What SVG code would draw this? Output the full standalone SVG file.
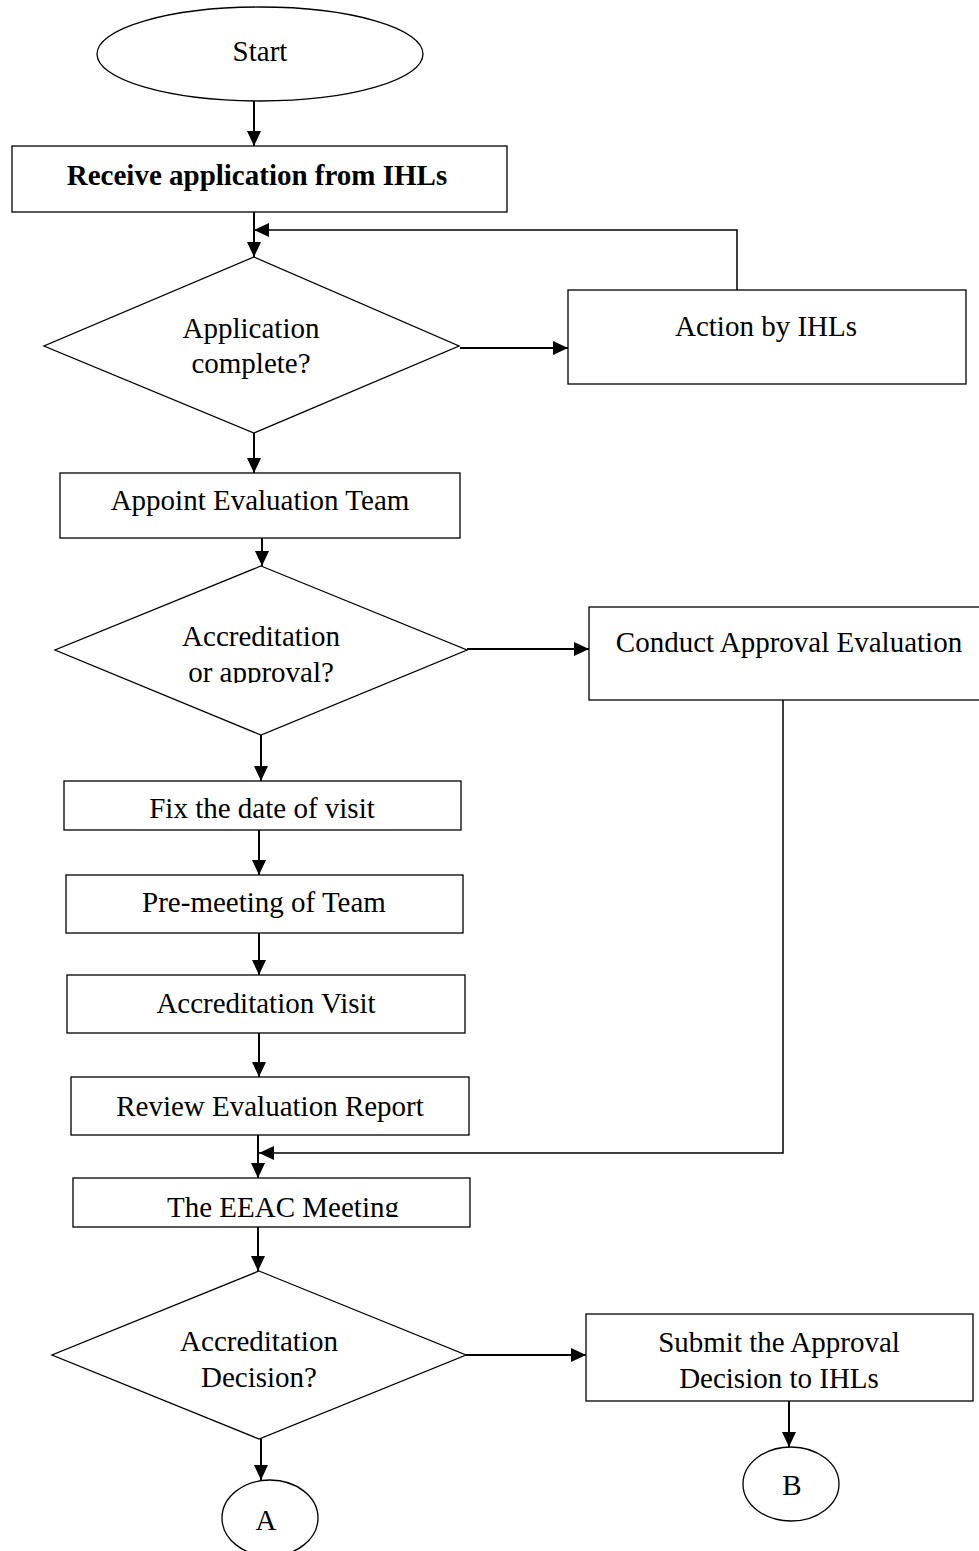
<svg xmlns="http://www.w3.org/2000/svg" width="979" height="1551" viewBox="0 0 979 1551">
<style>
.s{fill:#fff;stroke:#000;stroke-width:1.3}
.t{font-family:"Liberation Serif","Times New Roman",serif;font-size:29px;fill:#000;text-anchor:middle}
.b{font-weight:bold}
.c{fill:none;stroke:#000;stroke-width:2}
</style>
<defs>
<marker id="ah" markerUnits="userSpaceOnUse" markerWidth="16" markerHeight="14" refX="15" refY="7" orient="auto">
<path d="M0,0 L15,7 L0,14 z" fill="#000"/>
</marker>
<clipPath id="clipOr"><rect x="0" y="600" width="979" height="83"/></clipPath>
<clipPath id="clipEeac"><rect x="0" y="1180" width="979" height="37"/></clipPath>
</defs>
<rect width="979" height="1551" fill="#fff"/>
<g id="connectors">
<path class="c" d="M254,101 V146" marker-end="url(#ah)"/>
<path class="c" d="M254,212 V257" marker-end="url(#ah)"/>
<path class="c" style="stroke-width:1.5" d="M737,290 V230 H254" marker-end="url(#ah)"/>
<path class="c" d="M460,348 H568" marker-end="url(#ah)"/>
<path class="c" d="M254,433 V473" marker-end="url(#ah)"/>
<path class="c" d="M262,538 V566" marker-end="url(#ah)"/>
<path class="c" d="M467,649 H589" marker-end="url(#ah)"/>
<path class="c" d="M261,735 V781" marker-end="url(#ah)"/>
<path class="c" d="M259,830 V875" marker-end="url(#ah)"/>
<path class="c" d="M259,933 V975" marker-end="url(#ah)"/>
<path class="c" d="M259,1033 V1077" marker-end="url(#ah)"/>
<path class="c" d="M258,1135 V1178" marker-end="url(#ah)"/>
<path class="c" style="stroke-width:1.5" d="M783,700 V1153 H259" marker-end="url(#ah)"/>
<path class="c" d="M258,1227 V1271" marker-end="url(#ah)"/>
<path class="c" d="M466,1355 H586" marker-end="url(#ah)"/>
<path class="c" d="M789,1401 V1447" marker-end="url(#ah)"/>
<path class="c" d="M261,1439 V1480" marker-end="url(#ah)"/>
</g>
<g id="start">
<ellipse class="s" cx="260" cy="54" rx="163" ry="47"/>
<text class="t" x="260" y="61">Start</text>
</g>
<g id="receive">
<rect class="s" x="12" y="146" width="495" height="66"/>
<text class="t b" x="257" y="185">Receive application from IHLs</text>
</g>
<g id="app-complete">
<polygon class="s" points="254,257 459,346 254,433 44,346"/>
<text class="t" x="251" y="338">Application</text>
<text class="t" x="251" y="373">complete?</text>
</g>
<g id="action">
<rect class="s" x="568" y="290" width="398" height="94"/>
<text class="t" x="766" y="336">Action by IHLs</text>
</g>
<g id="appoint">
<rect class="s" x="60" y="473" width="400" height="65"/>
<text class="t" x="260" y="510">Appoint Evaluation Team</text>
</g>
<g id="accr-or-approval">
<polygon class="s" points="261,566 467,650 261,735 55,650"/>
<text class="t" x="261" y="646">Accreditation</text>
<text class="t" x="261" y="682" clip-path="url(#clipOr)">or approval?</text>
</g>
<g id="conduct">
<rect class="s" x="589" y="607" width="400" height="93"/>
<text class="t" x="789" y="652">Conduct Approval Evaluation</text>
</g>
<g id="fix">
<rect class="s" x="64" y="781" width="397" height="49"/>
<text class="t" x="262" y="818">Fix the date of visit</text>
</g>
<g id="premeeting">
<rect class="s" x="66" y="875" width="397" height="58"/>
<text class="t" x="264" y="912">Pre-meeting of Team</text>
</g>
<g id="visit">
<rect class="s" x="67" y="975" width="398" height="58"/>
<text class="t" x="266" y="1013">Accreditation Visit</text>
</g>
<g id="review">
<rect class="s" x="71" y="1077" width="398" height="58"/>
<text class="t" x="270" y="1116">Review Evaluation Report</text>
</g>
<g id="eeac">
<rect class="s" x="73" y="1178" width="397" height="49"/>
<text class="t" x="283" y="1217" clip-path="url(#clipEeac)">The EEAC Meeting</text>
</g>
<g id="decision">
<polygon class="s" points="259,1271 466,1355 259,1439 52,1355"/>
<text class="t" x="259" y="1351">Accreditation</text>
<text class="t" x="259" y="1387">Decision?</text>
</g>
<g id="submit">
<rect class="s" x="586" y="1314" width="387" height="87"/>
<text class="t" x="779" y="1352">Submit the Approval</text>
<text class="t" x="779" y="1388">Decision to IHLs</text>
</g>
<g id="conn-b">
<ellipse class="s" cx="791" cy="1484" rx="48" ry="37"/>
<text class="t" x="792" y="1495">B</text>
</g>
<g id="conn-a">
<ellipse class="s" cx="270" cy="1518" rx="48" ry="38"/>
<text class="t" x="266" y="1530">A</text>
</g>
</svg>
